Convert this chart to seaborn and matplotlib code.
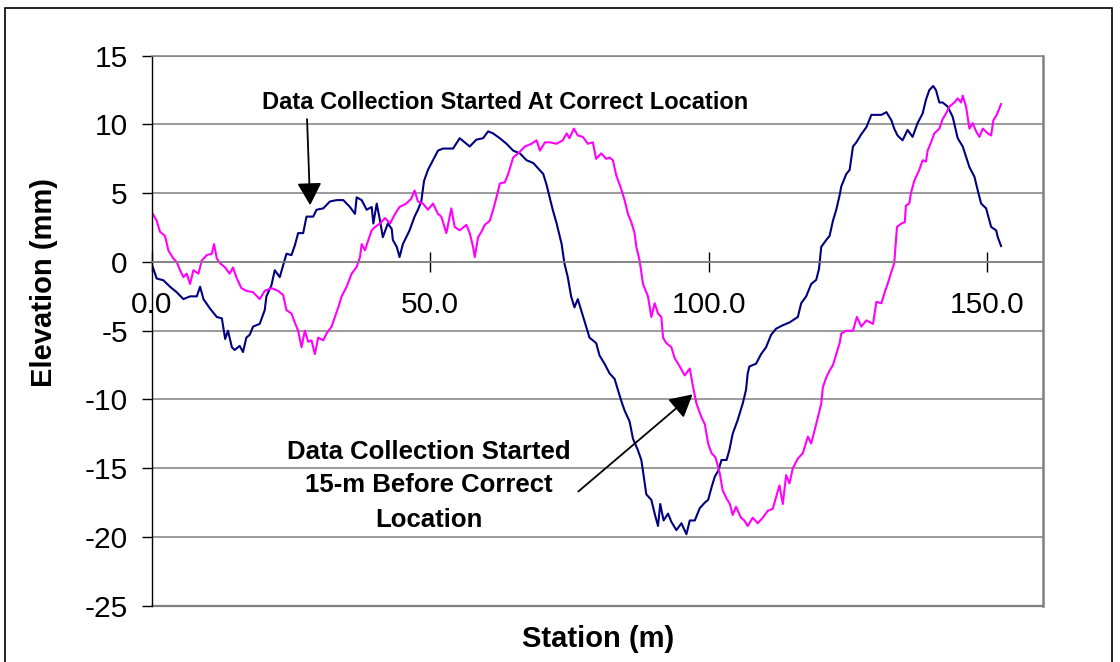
import matplotlib
matplotlib.use("Agg")
import matplotlib.pyplot as plt
import pandas as pd
import seaborn as sns
from matplotlib.patches import Rectangle

# Profile measured from the correct starting point
station_correct = [
    0.2, 0.9, 2.1, 3.3, 4.5, 5.7, 6.9, 8.1, 8.7, 9.3, 10.5, 11.7, 12.6, 13.2, 13.7,
    14.4, 14.9, 15.8, 16.4, 17.0, 17.6, 18.2, 19.4, 20.3, 20.6, 21.5, 22.1, 23.0,
    23.6, 24.2, 25.1, 25.7, 26.3, 27.2, 27.8, 29.0, 29.6, 30.8, 32.0, 33.2, 34.4,
    35.6, 36.5, 36.8, 37.7, 38.6, 39.5, 39.8, 40.4, 41.0, 41.5, 42.4, 43.1, 43.3,
    44.0, 44.5, 45.1, 45.7, 46.3, 47.2, 47.8, 48.4, 48.9, 49.6, 50.5, 51.4, 52.3,
    54.1, 55.3, 57.1, 58.3, 59.5, 60.4, 61.3, 62.5, 63.7, 64.9, 66.1, 67.3, 68.5,
    69.4, 70.3, 70.9, 71.5, 72.0, 72.7, 73.6, 74.1, 74.7, 75.3, 75.9, 76.5, 78.6,
    79.2, 79.8, 80.4, 81.3, 82.2, 83.1, 83.7, 84.3, 84.9, 85.8, 86.4, 87.3, 87.9,
    88.2, 88.8, 89.7, 90.3, 90.9, 91.3, 91.9, 92.7, 93.3, 94.2, 95.1, 96.0, 96.6,
    97.5, 98.4, 99.3, 99.9, 100.5, 101.1, 101.7, 102.3, 103.2, 103.7, 104.3, 105.2,
    106.1, 106.7, 107.0, 107.3, 108.5, 109.4, 110.3, 111.2, 112.1, 113.3, 114.5,
    116.0, 116.6, 117.5, 118.4, 119.3, 119.8, 120.2, 121.1, 121.7, 122.3, 122.9,
    123.5, 123.8, 124.7, 125.3, 125.9, 126.5, 127.4, 128.3, 129.2, 130.1, 131.0,
    131.9, 132.8, 133.3, 133.9, 134.8, 135.7, 136.6, 137.5, 138.4, 139.0, 139.6,
    140.3, 140.8, 141.4, 142.0, 142.9, 143.8, 144.7, 145.6, 146.8, 147.7, 148.3,
    148.9, 149.8, 150.7, 151.6, 151.9, 152.5,
]
elev_correct = [
    -0.36, -1.2, -1.33, -1.8, -2.2, -2.7, -2.5, -2.5, -1.8, -2.7, -3.4, -4.0, -4.1,
    -5.6, -5.0, -6.2, -6.4, -6.1, -6.55, -5.5, -5.3, -4.7, -4.5, -3.5, -2.5, -1.7,
    -0.6, -1.1, -0.24, 0.6, 0.5, 1.2, 2.1, 2.1, 3.3, 3.3, 3.8, 3.9, 4.4, 4.5, 4.5,
    4.0, 3.5, 4.7, 4.5, 3.8, 4.0, 2.8, 4.25, 3.0, 1.8, 2.8, 2.4, 1.6, 1.1, 0.36,
    1.3, 1.8, 2.3, 3.3, 3.8, 4.4, 5.9, 6.7, 7.4, 8.1, 8.25, 8.25, 9.0, 8.4, 8.9,
    9.0, 9.5, 9.35, 9.0, 8.6, 8.1, 7.9, 7.4, 7.2, 6.8, 6.4, 5.6, 4.6, 3.8, 2.8,
    1.3, -0.1, -1.1, -2.5, -3.3, -2.7, -5.5, -5.7, -5.9, -6.8, -7.4, -8.1, -8.5,
    -9.3, -10.1, -10.8, -11.6, -12.85, -13.7, -14.4, -15.2, -16.9, -17.3, -18.3,
    -19.2, -17.6, -18.8, -18.3, -18.9, -19.5, -19.0, -19.8, -18.8, -18.8, -17.9,
    -17.5, -17.3, -16.4, -15.6, -15.2, -14.4, -14.4, -13.7, -12.5, -11.5, -10.3,
    -9.3, -8.1, -7.6, -7.4, -6.7, -6.2, -5.3, -4.85, -4.6, -4.4, -4.0, -3.0, -2.5,
    -1.6, -1.3, -0.5, 1.1, 1.6, 1.9, 3.0, 3.8, 4.85, 5.5, 6.4, 6.7, 8.4, 8.7, 9.3,
    9.8, 10.7, 10.7, 10.7, 10.9, 10.3, 9.7, 9.2, 8.85, 9.6, 9.1, 10.1, 10.8, 11.8,
    12.5, 12.8, 12.5, 11.6, 11.6, 11.3, 10.55, 9.0, 8.4, 6.9, 6.2, 5.2, 4.25, 3.9,
    2.55, 2.3, 1.8, 1.14,
]

# Profile measured when the run started 15 m early
station_early = [
    0.2, 0.9, 1.5, 2.4, 3.0, 3.9, 4.5, 5.1, 5.7, 6.3, 6.9, 7.5, 8.4, 9.0, 9.9, 10.8,
    11.2, 11.7, 12.3, 13.2, 14.0, 14.6, 15.2, 16.1, 17.0, 18.2, 19.4, 20.3, 21.5,
    22.7, 23.6, 24.2, 25.1, 25.7, 26.3, 26.9, 27.5, 28.1, 28.7, 29.3, 29.9, 30.8,
    31.4, 32.3, 32.9, 33.5, 34.1, 35.0, 35.9, 36.8, 37.4, 37.7, 38.3, 38.9, 39.5,
    40.1, 41.0, 41.9, 42.8, 43.7, 44.5, 45.7, 46.6, 47.2, 47.8, 48.7, 49.6, 50.5,
    51.4, 52.0, 52.9, 53.8, 54.4, 55.3, 56.5, 57.1, 57.7, 58.0, 58.6, 59.2, 59.8,
    60.7, 61.3, 61.9, 62.5, 63.4, 64.0, 64.9, 65.8, 67.0, 68.2, 69.1, 69.7, 70.6,
    71.5, 72.7, 73.8, 74.5, 75.0, 75.8, 76.5, 77.4, 78.3, 79.2, 79.8, 80.7, 81.6,
    82.2, 82.8, 83.4, 84.3, 84.9, 85.5, 86.1, 86.7, 87.0, 87.6, 88.2, 89.1, 89.7,
    90.3, 90.9, 91.5, 91.8, 92.4, 93.3, 93.9, 94.8, 95.7, 96.6, 97.2, 97.8, 98.7,
    99.3, 99.9, 100.5, 101.2, 101.7, 102.0, 102.5, 103.2, 103.8, 104.3, 104.9,
    105.8, 106.4, 107.0, 107.9, 108.8, 109.7, 110.6, 111.5, 112.1, 112.7, 113.3,
    113.9, 114.5, 115.1, 116.0, 116.9, 117.8, 118.4, 119.0, 119.6, 120.2, 120.5,
    121.1, 121.7, 122.3, 122.9, 123.5, 123.8, 124.7, 125.9, 126.6, 127.4, 128.3,
    129.5, 130.1, 131.0, 131.6, 132.2, 132.8, 133.3, 133.8, 134.6, 135.2, 135.4,
    136.0, 136.3, 136.9, 137.8, 138.4, 139.0, 139.3, 139.9, 140.5, 141.4, 142.0,
    142.6, 143.2, 144.1, 144.7, 145.3, 145.6, 146.2, 146.8, 147.4, 148.0, 148.6,
    149.2, 150.1, 150.7, 151.1, 151.7, 152.5,
]
elev_early = [
    3.5, 3.0, 2.2, 1.9, 0.85, 0.25, 0.0, -0.6, -1.1, -0.85, -1.6, -0.6, -0.85, 0.1,
    0.5, 0.6, 1.3, 0.25, -0.1, -0.4, -0.85, -0.4, -1.1, -1.9, -2.1, -2.2, -2.7,
    -2.1, -1.9, -2.1, -2.4, -3.5, -3.75, -4.4, -5.0, -6.2, -5.0, -5.8, -5.7, -6.7,
    -5.5, -5.7, -5.2, -4.7, -4.0, -3.3, -2.5, -1.8, -0.85, -0.36, 0.36, 1.3, 0.85,
    1.6, 2.3, 2.55, 2.8, 3.2, 2.8, 3.5, 4.0, 4.25, 4.6, 5.2, 4.4, 4.25, 3.8, 4.25,
    3.5, 3.3, 2.1, 3.9, 2.55, 2.3, 2.7, 2.1, 1.1, 0.36, 1.8, 2.2, 2.7, 3.0, 3.8,
    4.7, 5.7, 5.8, 6.4, 7.6, 7.9, 8.4, 8.6, 8.85, 8.1, 8.7, 8.7, 8.6, 8.85, 9.35,
    9.0, 9.7, 9.2, 9.1, 8.6, 8.7, 7.5, 7.9, 7.5, 7.6, 7.4, 6.3, 5.3, 4.5, 3.5, 2.9,
    2.1, 1.1, 0.1, -1.6, -2.5, -4.0, -3.0, -3.75, -4.0, -5.5, -5.9, -6.2, -7.0,
    -7.6, -8.25, -7.75, -9.1, -10.3, -11.3, -11.8, -13.2, -13.9, -14.2, -14.9,
    -15.4, -16.6, -17.2, -17.6, -18.4, -17.8, -18.6, -18.8, -19.2, -18.6, -19.0,
    -18.6, -18.1, -17.95, -17.1, -16.25, -17.6, -15.5, -16.1, -15.0, -14.3, -13.9,
    -12.7, -13.2, -12.25, -11.3, -10.3, -9.1, -8.4, -7.9, -7.5, -6.7, -5.9, -5.2,
    -5.0, -5.0, -4.0, -4.7, -4.25, -4.5, -2.9, -3.0, -2.2, -1.5, -0.7, -0.1, 2.55,
    2.8, 2.9, 4.1, 4.25, 5.0, 5.9, 6.7, 7.4, 7.3, 8.1, 8.7, 9.35, 9.7, 10.4, 10.8,
    11.3, 11.6, 11.9, 11.6, 12.1, 11.3, 9.7, 10.1, 9.5, 9.1, 9.7, 9.35, 9.2, 10.3,
    10.7, 11.5,
]

y_ticks = [15, 10, 5, 0, -5, -10, -15, -20, -25]
x_ticks = [0, 50, 100, 150]
x_tick_labels = ["0.0", "50.0", "100.0", "150.0"]

sns.set_style("white")
plt.rcParams["font.family"] = ["Liberation Sans", "DejaVu Sans"]
plt.rcParams["axes.unicode_minus"] = False
plt.rcParams["text.color"] = "black"
plt.rcParams["xtick.labelcolor"] = "black"
plt.rcParams["ytick.labelcolor"] = "black"

GRID = "#808080"

fig = plt.figure(figsize=(11.2, 6.62), dpi=100)
ax = fig.add_axes([0.1354, 0.0850, 0.7958, 0.8308])

profiles = pd.concat([
    pd.DataFrame({"station": station_correct, "elevation": elev_correct,
                  "run": "correct"}),
    pd.DataFrame({"station": station_early, "elevation": elev_early,
                  "run": "early"}),
], ignore_index=True)

sns.lineplot(data=profiles, x="station", y="elevation", hue="run",
             hue_order=["correct", "early"],
             palette={"correct": "#000080", "early": "#FF00FF"},
             sort=False, estimator=None, linewidth=1.5, legend=False, ax=ax)

ax.set_xlim(0, 160)
ax.set_ylim(-25, 15)
ax.set_yticks(y_ticks)
ax.set_xticks(x_ticks)
ax.set_xticklabels(x_tick_labels)
ax.set_xlabel("")
ax.set_ylabel("")

# horizontal gridlines, plot-area edges
ax.yaxis.grid(True, color=GRID, linewidth=1.1)
ax.xaxis.grid(False)
ax.set_axisbelow(True)
ax.axhline(-25, color=GRID, linewidth=1.6, clip_on=False, zorder=0.5)

ax.spines["left"].set_color("black")
ax.spines["left"].set_linewidth(1.0)
ax.spines["right"].set_color(GRID)
ax.spines["right"].set_linewidth(1.8)
ax.spines["top"].set_color(GRID)
ax.spines["top"].set_linewidth(1.1)
ax.spines["bottom"].set_position(("data", 0))
ax.spines["bottom"].set_color(GRID)
ax.spines["bottom"].set_linewidth(1.1)

ax.tick_params(axis="y", direction="out", length=7.2, width=1.0,
               color="black", labelcolor="black", labelsize=21.5, pad=10,
               left=True)
ax.tick_params(axis="x", direction="inout", length=14.4, width=1.0,
               color="black", labelcolor="black", labelsize=21.5, pad=14,
               bottom=True)

# annotations
ax.text(63.4, 11.16, "Data Collection Started At Correct Location",
        ha="center", va="baseline", fontsize=17, fontweight="bold",
        color="black")
ax.annotate("", xy=(28.45, 4.13), xytext=(27.9, 10.39),
            arrowprops=dict(arrowstyle="-|>,head_length=0.55,head_width=0.3",
                            mutation_scale=25, color="black", lw=1.3,
                            shrinkA=0, shrinkB=0))

for txt, yb in [("Data Collection Started", -14.31),
                ("15-m Before Correct", -16.74),
                ("Location", -19.24)]:
    ax.text(49.7, yb, txt, ha="center", va="baseline",
            fontsize=18.5, fontweight="bold", color="black")
ax.annotate("", xy=(97.1, -9.63), xytext=(76.6, -16.69),
            arrowprops=dict(arrowstyle="-|>,head_length=0.55,head_width=0.3",
                            mutation_scale=25, color="black", lw=1.3,
                            shrinkA=0, shrinkB=0))

# axis titles
fig.text(44 / 1120, 1 - 283 / 662, "Elevation (mm)", rotation=90,
         ha="center", va="center", fontsize=21, fontweight="bold",
         color="black")
fig.text(598 / 1120, 1 - 646.7 / 662, "Station (m)", ha="center",
         va="baseline", fontsize=21, fontweight="bold", color="black")

# chart-area frame
fig.add_artist(Rectangle((5 / 1120, -0.05), (1112 - 5) / 1120,
                         1 - 8 / 662 + 0.05, transform=fig.transFigure,
                         fill=False, edgecolor="black", linewidth=1.2))

fig.savefig("out.png", dpi=100)
